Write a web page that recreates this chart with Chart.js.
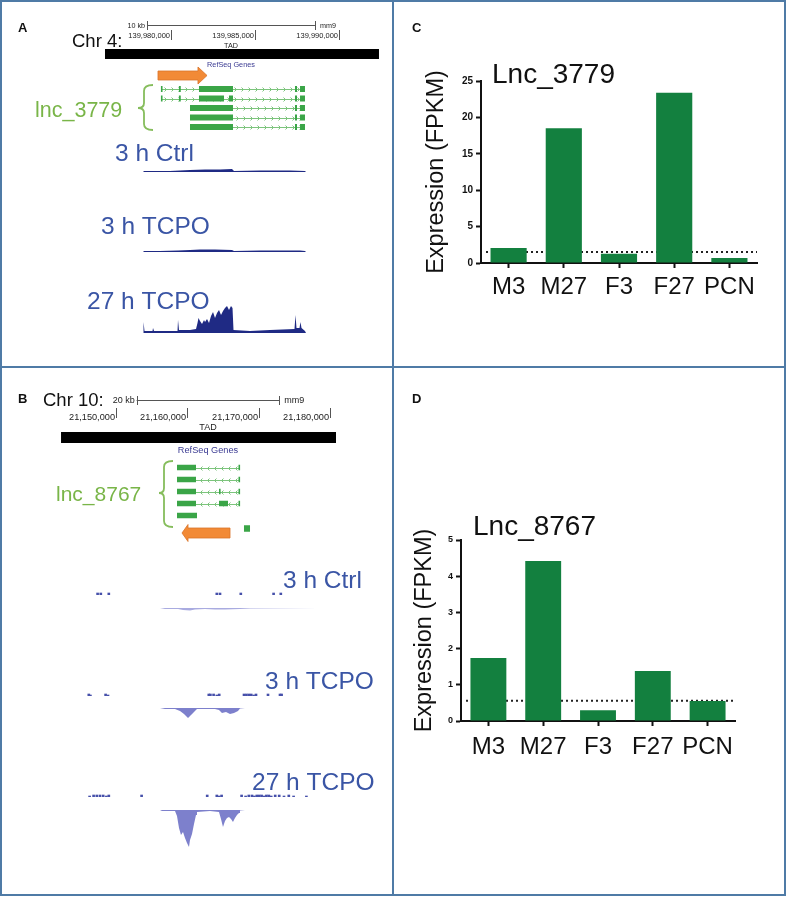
<!DOCTYPE html>
<html>
<head>
<meta charset="utf-8">
<script src="https://cdn.jsdelivr.net/npm/chart.js@4.4.7/dist/chart.umd.min.js"></script>
<style>
  body { margin: 0; background: #fff; }
  #fig { position: relative; width: 788px; height: 897px; overflow: hidden; background: #fff; }
  #fig canvas { position: absolute; }
  .rule { position: absolute; background: #4f7ba6; }
</style>
</head>
<body>
<div id="fig">
  <canvas id="browserA" width="392" height="366" style="left:0;top:0"></canvas>
  <canvas id="browserB" width="392" height="528" style="left:0;top:368px"></canvas>
  <canvas id="chartC" width="390" height="364" style="left:394px;top:2px"></canvas>
  <canvas id="chartD" width="390" height="526" style="left:394px;top:368px"></canvas>
</div>
<script>
const FONT = '"Liberation Sans", Arial, sans-serif';
Chart.defaults.font.family = FONT;

// ---- expression bar charts (C, D) ----
const groups = ["M3", "M27", "F3", "F27", "PCN"];
const lnc3779Fpkm = [2.05, 18.5, 1.27, 23.4, 0.68];
const lnc3779Cutoff = 1.5;
const lnc8767Fpkm = [1.74, 4.42, 0.3, 1.38, 0.55];
const lnc8767Cutoff = 0.56;

// ---- genome browser, panel A (chr4, mm9) ----
const aView = [139969820, 139993155];
const aScaleBar = [139978570, 139988570];
const aCoordTicks = [139980000, 139985000, 139990000];
const aTad = [139976070, 139992380];
const aArrow = [139979225, 139981605, 139982145]; // tail, head base, tip
const aIntrons = [
  [0, 139979405, 139987976], [1, 139979405, 139987976],
  [2, 139983690, 139987976], [3, 139983690, 139987976], [4, 139983690, 139987976],
];
const aExons = [
  [0, 139979400, 139979460], [0, 139980470, 139980580], [0, 139981665, 139983690], [0, 139987380, 139987500], [0, 139987680, 139987975],
  [1, 139979400, 139979460], [1, 139980470, 139980580], [1, 139981665, 139983155], [1, 139983450, 139983690], [1, 139987380, 139987500], [1, 139987680, 139987975],
  [2, 139981130, 139983690], [2, 139987380, 139987500], [2, 139987680, 139987975],
  [3, 139981130, 139983690], [3, 139987380, 139987500], [3, 139987680, 139987975],
  [4, 139981130, 139983690], [4, 139987380, 139987500], [4, 139987680, 139987975],
];
const aCov3hCtrl = [[139978333,0],[139978393,1],[139979940,1],[139980536,1.5],[139981131,2],[139982024,2.5],[139982917,2.5],[139983631,3],[139983750,1],[139985298,1.5],[139987083,1.5],[139987976,1],[139988036,0]];
const aCov3hTcpo = [[139978333,0],[139978393,1],[139979345,1],[139980417,1.5],[139981131,2],[139981726,2.5],[139982619,2.5],[139983631,2],[139983750,1],[139985298,1.5],[139986488,1.5],[139987679,1.5],[139987976,1],[139988036,0]];
const aCov27hTcpo = [
  [139978333,0],[139978363,11],[139978423,2],[139978899,2],[139978929,5],[139978988,2],
  [139980387,2],[139980417,13],[139980476,3],[139981131,3],[139981488,4],[139981577,10],[139981637,15],
  [139981726,12],[139981845,9],[139981964,13],[139982024,11],[139982143,14],[139982262,10],[139982381,17],
  [139982500,21],[139982619,15],[139982738,20],[139982857,23],[139982976,18],[139983095,22],[139983214,25],
  [139983333,27],[139983452,23],[139983571,27],[139983661,25],[139983720,3],
  [139984702,2],[139985893,3],[139987351,4],[139987411,18],[139987470,5],[139987649,5],[139987708,11],
  [139987768,5],[139987976,2],[139988036,0],
];

// ---- genome browser, panel B (chr10, mm9) ----
const bView = [21133730, 21188710];
const bScaleBar = [21152900, 21172900];
const bCoordTicks = [21150000, 21160000, 21170000, 21180000];
const bTad = [21142290, 21180855];
const bArrow = [21165990, 21160100, 21159255];
const bIntrons = [[0, 21161220, 21167320], [1, 21161220, 21167320], [2, 21161220, 21167320], [3, 21161220, 21167320]];
const bExons = [
  [0, 21158555, 21161220], [0, 21167180, 21167320],
  [1, 21158555, 21161220], [1, 21167180, 21167320],
  [2, 21158555, 21161220], [2, 21164446, 21164586], [2, 21167180, 21167320],
  [3, 21158555, 21161220], [3, 21164446, 21165708], [3, 21167180, 21167320],
  [4, 21158555, 21161360],
  [5, 21167950, 21168795],
];
// plus strand (upper) specks and minus strand (lower, negative) coverage
const bPlus3hCtrl = [[21143969,2],[21144530,2],[21145933,2],[21164867,2],[21165428,2],[21169074,2],[21174824,2],[21176087,2]];
const bPlus3hTcpo = [[21142426,2],[21142707,1],[21145372,2],[21145792,1],[21163464,2],[21163745,2],[21164306,2],[21164867,1],[21165288,2],[21169635,2],[21170056,2],[21170477,2],[21170897,2],[21171318,1],[21171739,2],[21173843,2],[21175946,2],[21176227,2]];
const bPlus27hTcpo = [[21142567,1],[21143268,2],[21143829,2],[21144390,2],[21144951,2],[21145512,1],[21145933,2],[21151683,2],[21163184,2],[21164867,2],[21165288,1],[21165708,2],[21169214,2],[21169916,1],[21170477,2],[21171038,2],[21171458,1],[21171879,2],[21172300,2],[21172721,2],[21173141,1],[21173562,2],[21173983,2],[21174404,1],[21175105,2],[21175806,2],[21176648,1],[21177489,2],[21178331,1],[21180575,1]];
const bMinus3hCtrl = [[21156171,0],[21156872,-1],[21158696,-1],[21159397,-2],[21160379,-2.5],[21161080,-1.5],[21162482,-1],[21163885,-1.5],[21165288,-1.5],[21167391,-1],[21168794,-0.5],[21178331,0]];
const bMinus3hTcpo = [[21156171,0],[21156872,-1],[21158275,-1],[21158976,-3],[21159537,-6],[21160098,-10],[21160519,-7],[21160940,-4],[21161360,-1],[21163885,-1],[21164446,-2],[21164867,-5],[21165428,-4],[21165989,-6],[21166550,-5],[21167111,-3],[21167391,-0.5],[21168092,0]];
const bMinus27hTcpo = [
  [21156171,0],[21156452,-1],[21158275,-1],[21158555,-6],[21158836,-18],[21159116,-25],[21159397,-22],
  [21159677,-28],[21159958,-33],[21160238,-37],[21160379,-30],[21160659,-24],[21160940,-14],[21161220,-5],
  [21161360,-2],[21163184,-1],[21164446,-2],[21164726,-9],[21165007,-17],[21165288,-11],[21165568,-8],
  [21165849,-7],[21166129,-9],[21166409,-12],[21166690,-8],[21166970,-5],[21167251,-3],[21167391,-0.5],[21168092,0],
];

const fig = document.getElementById("fig");
const hidden = { display: false };
const quiet = { legend: { display: false }, tooltip: { enabled: false } };

function drawBrace(ctx, b, color) {
  ctx.strokeStyle = color;
  ctx.lineWidth = 1.8;
  ctx.beginPath();
  ctx.moveTo(b.xr, b.y1);
  ctx.quadraticCurveTo(b.xm, b.y1, b.xm, b.y1 + 6);
  ctx.lineTo(b.xm, b.ym - 5);
  ctx.quadraticCurveTo(b.xm, b.ym, b.xl, b.ym);
  ctx.quadraticCurveTo(b.xm, b.ym, b.xm, b.ym + 5);
  ctx.lineTo(b.xm, b.y2 - 6);
  ctx.quadraticCurveTo(b.xm, b.y2, b.xr, b.y2);
  ctx.stroke();
}

function browserPanel(id, view, data, lay) {
  const plugin = {
    id: "browser",
    afterDraw(chart) {
      const ctx = chart.ctx;
      const px = (v) => chart.scales.x.getPixelForValue(v);
      const top = lay.offsetY;
      const Y = (y) => y - top;
      ctx.save();
      ctx.textBaseline = "alphabetic";

      ctx.fillStyle = "#111";
      ctx.font = `bold 13px ${FONT}`;
      ctx.fillText(lay.letter, lay.letterPos[0], Y(lay.letterPos[1]));
      ctx.font = `${lay.chromSize}px ${FONT}`;
      ctx.fillText(lay.chrom, lay.chromPos[0], Y(lay.chromPos[1]));

      // scale bar
      const r1 = px(data.scaleBar[0]), r2 = px(data.scaleBar[1]);
      ctx.strokeStyle = "#555"; ctx.lineWidth = 1;
      ctx.beginPath();
      ctx.moveTo(r1, Y(lay.rulerY) + 0.5); ctx.lineTo(r2, Y(lay.rulerY) + 0.5);
      ctx.moveTo(Math.round(r1) + 0.5, Y(lay.rulerY) - 4); ctx.lineTo(Math.round(r1) + 0.5, Y(lay.rulerY) + 5);
      ctx.moveTo(Math.round(r2) + 0.5, Y(lay.rulerY) - 4); ctx.lineTo(Math.round(r2) + 0.5, Y(lay.rulerY) + 5);
      ctx.stroke();
      ctx.fillStyle = "#222";
      ctx.font = `${lay.smallSize}px ${FONT}`;
      ctx.textAlign = "right";
      ctx.fillText(lay.rulerText, r1 - 2, Y(lay.rulerY) + 3);
      ctx.textAlign = "left";
      ctx.fillText("mm9", r2 + 5, Y(lay.rulerY) + 3);
      const mid = (r1 + r2) / 2;

      // coordinate ticks
      ctx.textAlign = "right";
      ctx.font = `${lay.coordSize}px ${FONT}`;
      data.coordTicks.forEach((pos) => {
        const x = Math.round(px(pos)) + 0.5;
        ctx.fillText(pos.toLocaleString("en-US"), x - 1.5, Y(lay.coordBase));
        ctx.beginPath();
        ctx.moveTo(x, Y(lay.coordTick[0])); ctx.lineTo(x, Y(lay.coordTick[1]));
        ctx.stroke();
      });

      // TAD
      ctx.textAlign = "center";
      ctx.font = `${lay.smallSize}px ${FONT}`;
      ctx.fillText("TAD", mid, Y(lay.tadLabelBase));
      ctx.fillStyle = "#000";
      ctx.fillRect(px(data.tad[0]), Y(lay.tadY), px(data.tad[1]) - px(data.tad[0]), lay.tadH);
      ctx.fillStyle = "#3a3a92";
      ctx.font = `${lay.refseqSize}px ${FONT}`;
      ctx.fillText("RefSeq Genes", mid, Y(lay.refseqBase));

      // gene models
      ctx.strokeStyle = "#7cc47c"; ctx.lineWidth = 1;
      data.introns.forEach(([row, s, e]) => {
        const y = Math.round(Y(lay.rows[row])) + 0.5;
        const x1 = px(s), x2 = px(e);
        ctx.beginPath(); ctx.moveTo(x1, y); ctx.lineTo(x2, y); ctx.stroke();
        for (let cx = x1 + 5; cx < x2 - 3; cx += 7) {
          ctx.beginPath();
          ctx.moveTo(cx - 1.5 * lay.strand, y - 2);
          ctx.lineTo(cx + 0.5 * lay.strand, y);
          ctx.lineTo(cx - 1.5 * lay.strand, y + 2);
          ctx.stroke();
        }
      });
      ctx.fillStyle = "#3aa547";
      data.exons.forEach(([row, s, e]) => {
        const h = lay.rowHeights ? lay.rowHeights[row] : lay.exonH;
        const x1 = px(s), w = Math.max(px(e) - x1, 1.6);
        ctx.fillRect(x1, Y(lay.rows[row]) - h / 2, w, h);
      });

      // direction arrow
      const [tail, base, tip] = data.arrow.map(px);
      const ay = Y(lay.arrowY);
      ctx.fillStyle = "#f28a36"; ctx.strokeStyle = "#d9742a"; ctx.lineWidth = 0.8;
      ctx.beginPath();
      ctx.moveTo(tail, ay - lay.arrowBody); ctx.lineTo(base, ay - lay.arrowBody);
      ctx.lineTo(base, ay - lay.arrowHead); ctx.lineTo(tip, ay);
      ctx.lineTo(base, ay + lay.arrowHead); ctx.lineTo(base, ay + lay.arrowBody);
      ctx.lineTo(tail, ay + lay.arrowBody); ctx.closePath();
      ctx.fill(); ctx.stroke();

      // brace + lnc name
      const br = lay.brace;
      drawBrace(ctx, { xl: br.xl, xm: br.xm, xr: br.xr, y1: Y(br.y1), y2: Y(br.y2), ym: Y(br.ym) }, "#86bd5c");
      ctx.fillStyle = "#79b548";
      ctx.textAlign = "left";
      ctx.font = `${lay.lncSize}px ${FONT}`;
      ctx.fillText(lay.lnc, lay.lncPos[0], Y(lay.lncPos[1]));

      // track labels
      ctx.fillStyle = "#3a55a5";
      ctx.font = `24.5px ${FONT}`;
      lay.tracks.forEach(([t, x, y]) => ctx.fillText(t, x, Y(y)));
      ctx.restore();
    },
  };
  new Chart(document.getElementById(id), {
    type: "line",
    data: { datasets: [] },
    options: {
      responsive: false, animation: false,
      layout: { autoPadding: false },
      plugins: quiet,
      scales: { x: { type: "linear", min: view[0], max: view[1], display: false }, y: hidden },
    },
    plugins: [plugin],
  });
}

function coverageTrack(view, points, color, top, height, yRange) {
  const canvas = document.createElement("canvas");
  canvas.width = 392; canvas.height = height;
  canvas.style.left = "0px"; canvas.style.top = top + "px";
  fig.appendChild(canvas);
  new Chart(canvas, {
    type: "line",
    data: {
      datasets: [{
        data: points.map(([x, y]) => ({ x, y })),
        fill: "origin", backgroundColor: color, borderWidth: 0, pointRadius: 0, tension: 0,
      }],
    },
    options: {
      responsive: false, animation: false,
      layout: { autoPadding: false },
      plugins: quiet,
      scales: {
        x: { type: "linear", min: view[0], max: view[1], display: false },
        y: { min: yRange[0], max: yRange[1], display: false },
      },
    },
  });
}

function speckTrack(view, points, color, baseline) {
  const canvas = document.createElement("canvas");
  canvas.width = 392; canvas.height = 4;
  canvas.style.left = "0px"; canvas.style.top = baseline - 4 + "px";
  fig.appendChild(canvas);
  new Chart(canvas, {
    type: "bar",
    data: { datasets: [{ data: points.map(([x, y]) => ({ x, y })), backgroundColor: color, barThickness: 2 }] },
    options: {
      responsive: false, animation: false,
      layout: { autoPadding: false },
      plugins: quiet,
      scales: {
        x: { type: "linear", min: view[0], max: view[1], display: false },
        y: { min: 0, max: 4, display: false },
      },
    },
  });
}

function expressionChart(id, title, values, cutoff, yMax, yStep, box) {
  const annotations = {
    id: "annotations",
    beforeDatasetsDraw(chart) {
      const { ctx, chartArea } = chart;
      const y = chart.scales.y.getPixelForValue(cutoff);
      ctx.save();
      ctx.strokeStyle = "#222"; ctx.lineWidth = 2; ctx.setLineDash([2, 3]);
      ctx.beginPath(); ctx.moveTo(chartArea.left + 5, y); ctx.lineTo(chartArea.right, y); ctx.stroke();
      ctx.restore();
    },
    afterDraw(chart) {
      const { ctx, chartArea } = chart;
      ctx.save();
      ctx.fillStyle = "#111";
      ctx.font = `bold 13px ${FONT}`;
      ctx.fillText(box.letter, box.letterPos[0], box.letterPos[1]);
      ctx.font = `28px ${FONT}`;
      ctx.fillText(title, chartArea.left + box.titleDx, chartArea.top + box.titleDy);
      ctx.restore();
    },
  };
  const tickGrid = { drawOnChartArea: false, tickLength: 5, tickWidth: 2, tickColor: "#111", offset: false };
  new Chart(document.getElementById(id), {
    type: "bar",
    data: {
      labels: groups,
      datasets: [{ data: values, backgroundColor: "#13803f", barPercentage: 0.655, categoryPercentage: 1 }],
    },
    options: {
      responsive: false, animation: false,
      layout: { padding: box.padding, autoPadding: false },
      plugins: quiet,
      scales: {
        x: {
          grid: tickGrid,
          border: { color: "#111", width: 2 },
          ticks: { font: { size: 24 }, color: "#111", padding: box.xPad, maxRotation: 0, autoSkip: false },
          afterFit: (s) => { s.height = 40; },
        },
        y: {
          min: 0, max: yMax,
          grid: tickGrid,
          border: { color: "#111", width: 2 },
          ticks: { stepSize: yStep, font: { size: box.tickSize, weight: "bold" }, color: "#111", padding: 3 },
          title: { display: true, text: "Expression (FPKM)", font: { size: 23.5 }, color: "#111", padding: { top: 4, bottom: 4 } },
          afterFit: (s) => { s.width = box.yWidth; },
        },
      },
    },
    plugins: [annotations],
  });
}

browserPanel("browserA", aView,
  { scaleBar: aScaleBar, coordTicks: aCoordTicks, tad: aTad, arrow: aArrow, introns: aIntrons, exons: aExons },
  {
    offsetY: 0, letter: "A", letterPos: [18, 32], chrom: "Chr 4:", chromPos: [72, 47], chromSize: 18.5,
    rulerY: 25, rulerText: "10 kb", smallSize: 7.2, coordSize: 7.5, coordBase: 38, coordTick: [30, 40],
    tadLabelBase: 48, tadY: 49, tadH: 10, refseqBase: 67, refseqSize: 7.3,
    rows: [89, 98.5, 108, 117.5, 127], exonH: 6, strand: 1,
    arrowY: 75.5, arrowBody: 4.5, arrowHead: 8.5,
    brace: { xl: 138, xm: 144, xr: 153, y1: 85, y2: 130, ym: 108 },
    lnc: "lnc_3779", lncPos: [35, 117], lncSize: 21.5,
    tracks: [["3 h Ctrl", 115, 161], ["3 h TCPO", 101, 234], ["27 h TCPO", 87, 309]],
  });

browserPanel("browserB", bView,
  { scaleBar: bScaleBar, coordTicks: bCoordTicks, tad: bTad, arrow: bArrow, introns: bIntrons, exons: bExons },
  {
    offsetY: 368, letter: "B", letterPos: [18, 403], chrom: "Chr 10:", chromPos: [43, 406], chromSize: 18.5,
    rulerY: 400, rulerText: "20 kb", smallSize: 9, coordSize: 9.2, coordBase: 420, coordTick: [408, 418],
    tadLabelBase: 430, tadY: 432, tadH: 11, refseqBase: 453, refseqSize: 9.2,
    rows: [467.5, 479.5, 491.5, 503.5, 515.5, 528.5], rowHeights: [5.5, 5.5, 5.5, 5.5, 5.5, 6.5], strand: -1,
    arrowY: 533, arrowBody: 5, arrowHead: 8.5,
    brace: { xl: 159, xm: 164, xr: 173, y1: 461, y2: 527, ym: 493 },
    lnc: "lnc_8767", lncPos: [56, 501], lncSize: 21,
    tracks: [["3 h Ctrl", 283, 588], ["3 h TCPO", 265, 689], ["27 h TCPO", 252, 790]],
  });

coverageTrack(aView, aCov3hCtrl, "#1f2a84", 142, 30, [0, 30]);
coverageTrack(aView, aCov3hTcpo, "#1f2a84", 222, 30, [0, 30]);
coverageTrack(aView, aCov27hTcpo, "#1f2a84", 303, 30, [0, 30]);

speckTrack(bView, bPlus3hCtrl, "#4650aa", 595);
speckTrack(bView, bPlus3hTcpo, "#4650aa", 696);
speckTrack(bView, bPlus27hTcpo, "#4650aa", 797);
coverageTrack(bView, bMinus3hCtrl, "#a9abe0", 608, 40, [-40, 0]);
coverageTrack(bView, bMinus3hTcpo, "#7d80cc", 708, 40, [-40, 0]);
coverageTrack(bView, bMinus27hTcpo, "#7d80cc", 810, 40, [-40, 0]);

expressionChart("chartC", "Lnc_3779", lnc3779Fpkm, lnc3779Cutoff, 25, 5, {
  padding: { left: 24, right: 27, top: 79, bottom: 63 }, yWidth: 63, tickSize: 10, xPad: 5,
  letter: "C", letterPos: [18, 30], titleDx: 11, titleDy: 2,
});
expressionChart("chartD", "Lnc_8767", lnc8767Fpkm, lnc8767Cutoff, 5, 1, {
  padding: { left: 12, right: 49, top: 172, bottom: 133 }, yWidth: 55, tickSize: 9, xPad: 7,
  letter: "D", letterPos: [18, 35], titleDx: 12, titleDy: -5,
});

// panel frame lines on top
[
  [0, 0, 786, 2], [0, 0, 2, 896], [784, 0, 2, 896], [0, 894, 786, 2],
  [392, 0, 2, 896], [0, 366, 786, 2],
].forEach(([l, t, w, h]) => {
  const d = document.createElement("div");
  d.className = "rule";
  Object.assign(d.style, { left: l + "px", top: t + "px", width: w + "px", height: h + "px" });
  fig.appendChild(d);
});
</script>
</body>
</html>
